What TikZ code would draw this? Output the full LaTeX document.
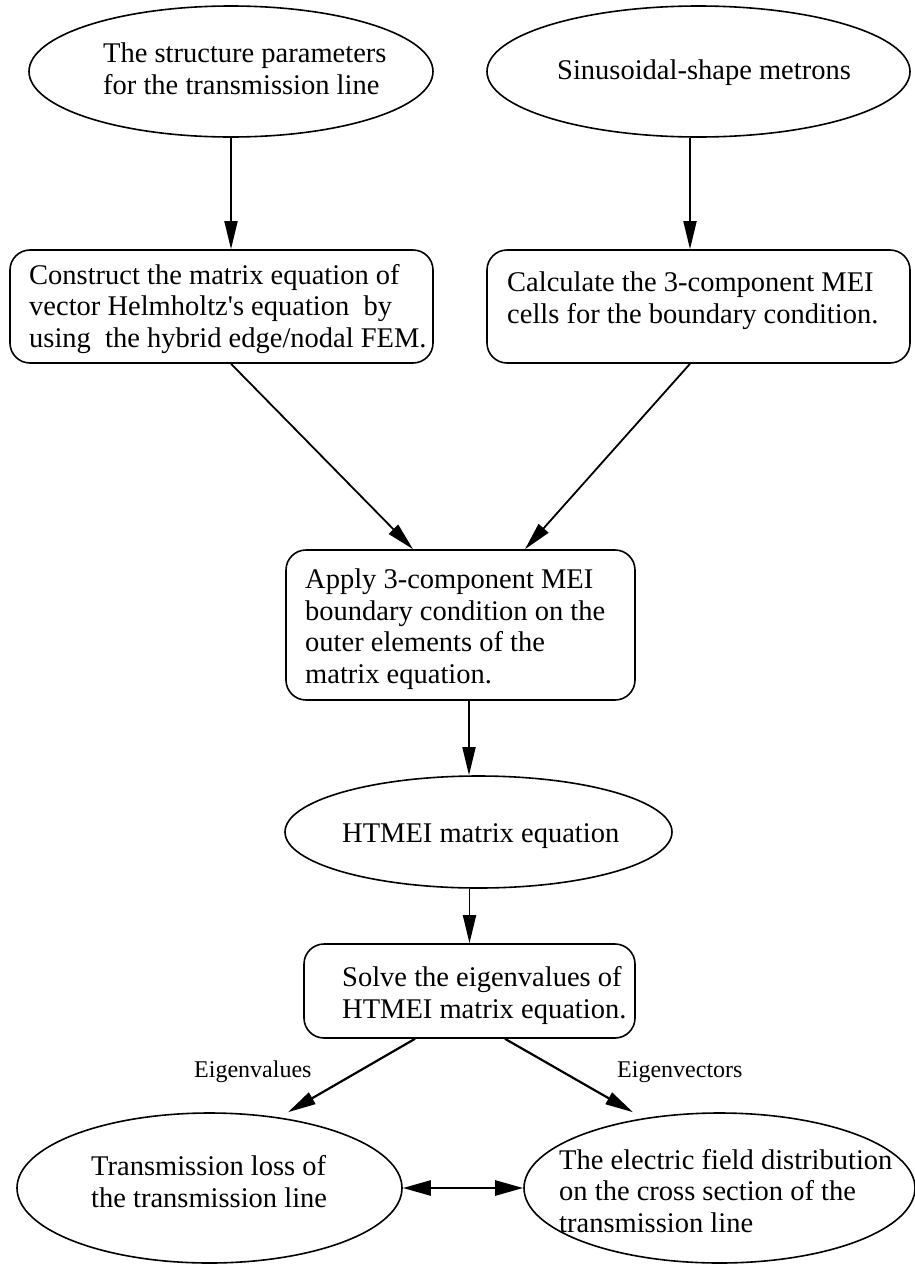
\documentclass[tikz,border=0pt]{standalone}
\usepackage{fontspec}
\setmainfont{Liberation Serif}
\usetikzlibrary{arrows.meta,shapes.geometric}
\begin{document}
\begin{tikzpicture}[x=1pt,y=-1pt,
  shapeline/.style={draw=black,line width=1.6pt,inner sep=0pt},
  oval/.style={shapeline,ellipse},
  rbox/.style={shapeline,rectangle,rounded corners=20pt},
  txt/.style={anchor=base west,inner sep=0pt,align=left,font=\fontsize{28.5}{31.5}\selectfont},
  lbl/.style={anchor=base west,inner sep=0pt,font=\fontsize{24}{28}\selectfont},
  tipa/.style={-{Triangle[length=28pt,width=13pt]}},
  conn/.style={tipa,line width=1.8pt},
  connb/.style={tipa,line width=2.2pt}
]
\useasboundingbox (0,0) rectangle (915,1264);
% shapes
\node[oval,minimum width=404pt,minimum height=131pt] (e1) at (231,71.5) {};
\node[oval,minimum width=423pt,minimum height=131pt] (e2) at (698.5,71.5) {};
\node[rbox,minimum width=423pt,minimum height=113pt] (b1) at (221.5,306.5) {};
\node[rbox,minimum width=423pt,minimum height=113pt] (b2) at (698.5,306.5) {};
\node[rbox,minimum width=349pt,minimum height=150pt] (ap) at (460.5,625) {};
\node[oval,minimum width=387pt,minimum height=112pt] (h) at (478.5,832) {};
\node[rbox,minimum width=331pt,minimum height=94pt] (s) at (469.5,991) {};
\node[oval,minimum width=385pt,minimum height=150pt] (L) at (209.5,1188) {};
\node[oval,minimum width=391pt,minimum height=150pt] (R) at (719.5,1188) {};
% texts (anchor = baseline of the last line)
\node[txt] (t1) at (103,94) {The structure parameters\\for the transmission line};
\node[txt] (t2) at (557,79) {Sinusoidal-shape metrons};
\node[txt] (t3) at (29,347) {Construct the matrix equation of\\vector Helmholtz\textquotesingle s equation\ \ by\\using\ \ the hybrid edge/nodal FEM.};
\node[txt] (t4) at (507,323) {Calculate the 3-component MEI\\cells for the boundary condition.};
\node[txt] (t5) at (305,683) {Apply 3-component MEI\\boundary condition on the\\outer elements of the\\matrix equation.};
\node[txt] (t6) at (342,842) {HTMEI matrix equation};
\node[txt] (t7) at (342,1018) {Solve the eigenvalues of\\HTMEI matrix equation.};
\node[txt] (t8) at (91,1207) {Transmission loss of\\the transmission line};
\node[txt] (t9) at (559,1232) {The electric field distribution\\on the cross section of the\\transmission line};
\node[lbl] (l1) at (194,1077) {Eigenvalues};
\node[lbl] (l2) at (617,1077) {Eigenvectors};
% connectors
\draw[conn] (e1.south) -- (e1.south |- b1.north);
\draw[conn] ([xshift=-8.5pt]e2.south) -- ([xshift=-8.5pt]b2.north);
\draw[conn] ([xshift=9.5pt]b1.south) -- ([xshift=-47.5pt]ap.north);
\draw[conn] ([xshift=-8.5pt]b2.south) -- ([xshift=64.5pt]ap.north);
\draw[conn] ([xshift=8.5pt]ap.south) -- ([xshift=8.5pt]ap.south |- h.north);
\draw[conn] (s.north |- h.south) -- (s.north);
\draw[connb] ([xshift=-54.5pt]s.south) -- ([xshift=78.5pt]L.north);
\draw[connb] ([xshift=35.5pt]s.south) -- ([xshift=-86.5pt]R.north);
\draw[{Triangle[length=28pt,width=15pt]}-{Triangle[length=28pt,width=15pt]},line width=2.5pt] (L.east) -- (R.west);
\end{tikzpicture}
\end{document}
